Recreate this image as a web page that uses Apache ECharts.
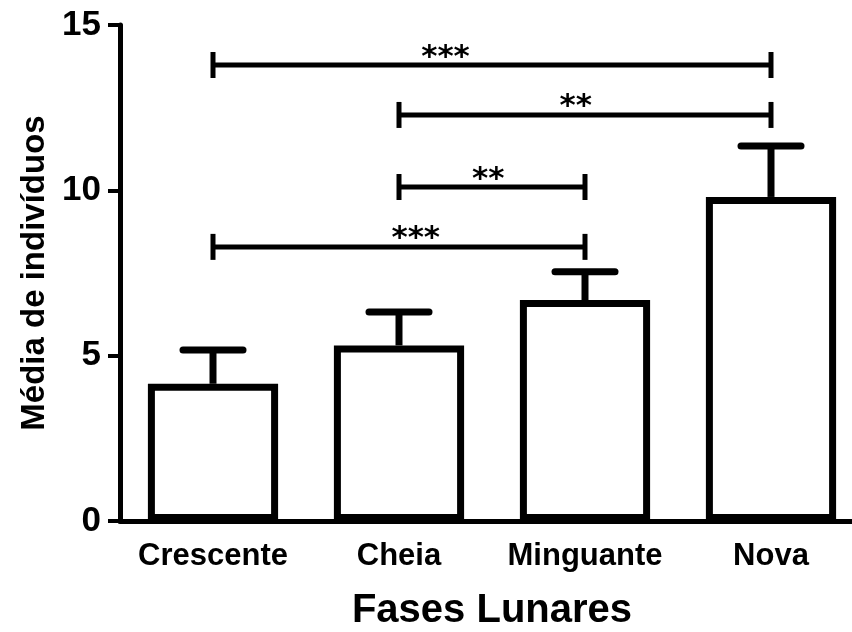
<!DOCTYPE html>
<html>
<head>
<meta charset="utf-8">
<script src="https://cdn.jsdelivr.net/npm/echarts@6/dist/echarts.min.js"></script>
<style>
  html, body { margin: 0; padding: 0; background: #fff; }
  #chart { width: 852px; height: 632px; }
</style>
</head>
<body>
<div id="chart"></div>
<script>
// fases lunares e médias
const fases = ['Crescente', 'Cheia', 'Minguante', 'Nova']
const medias = [4.15, 5.31, 6.68, 9.8]
const erros = [1.02, 1.01, 0.86, 1.54]
const yTicks = [0, 5, 10, 15]

// comparações significativas: inicio, fim, altura, posição dos asteriscos
const sigInicio = [0, 1, 1, 0]
const sigFim = [3, 3, 2, 2]
const sigAltura = [13.79, 12.28, 10.10, 8.29]
const sigTexto = ['***', '**', '**', '***']
const sigPosTexto = [1.25, 1.95, 1.48, 1.09]

const fonte = '"Liberation Sans", Arial, sans-serif'
const chart = echarts.init(document.getElementById('chart'))

chart.setOption({
  backgroundColor: '#fff',
  animation: false,
  grid: {
    left: 120,
    top: 25,
    width: 744,
    height: 496,
    containLabel: false,
    outerBoundsMode: 'none'
  },
  xAxis: {
    type: 'category',
    data: fases,
    name: 'Fases Lunares',
    nameLocation: 'middle',
    nameGap: 70,
    nameTextStyle: { fontFamily: fonte, fontWeight: 'bold', fontSize: 40, color: '#000' },
    axisLine: { lineStyle: { color: '#000', width: 5 } },
    axisTick: { alignWithLabel: true, length: 9, lineStyle: { color: '#000', width: 4 } },
    axisLabel: { interval: 0, margin: 20, fontFamily: fonte, fontWeight: 'bold', fontSize: 31, color: '#000' },
    splitLine: { show: false }
  },
  yAxis: {
    type: 'value',
    min: yTicks[0],
    max: yTicks[yTicks.length - 1],
    interval: yTicks[1] - yTicks[0],
    name: 'Média de indivíduos',
    nameLocation: 'middle',
    nameGap: 52,
    nameTextStyle: { fontFamily: fonte, fontWeight: 'bold', fontSize: 33, color: '#000' },
    axisLine: { show: true, lineStyle: { color: '#000', width: 5 } },
    axisTick: { show: true, length: 12, lineStyle: { color: '#000', width: 4 } },
    axisLabel: { margin: 19, fontFamily: fonte, fontWeight: 'bold', fontSize: 35, color: '#000' },
    splitLine: { show: false }
  },
  series: [
    {
      type: 'bar',
      data: medias,
      barWidth: '70%',
      itemStyle: { color: '#fff', borderColor: '#000', borderWidth: 7 },
      z: 2
    },
    {
      // barras de erro (só para cima)
      type: 'custom',
      data: medias.map((m, i) => [i, m, erros[i]]),
      z: 3,
      renderItem: function (params, api) {
        const i = api.value(0)
        const m = api.value(1)
        const e = api.value(2)
        const base = api.coord([i, m])
        const topo = api.coord([i, m + e])
        const meio = 30
        return {
          type: 'group',
          children: [
            {
              type: 'line',
              shape: { x1: base[0], y1: base[1], x2: topo[0], y2: topo[1] },
              style: { stroke: '#000', lineWidth: 7 }
            },
            {
              type: 'line',
              shape: { x1: topo[0] - meio, y1: topo[1], x2: topo[0] + meio, y2: topo[1] },
              style: { stroke: '#000', lineWidth: 7, lineCap: 'round' }
            }
          ]
        }
      }
    },
    {
      // linhas de significância
      type: 'custom',
      data: sigAltura.map((h, k) => [sigInicio[k], sigFim[k], h, sigPosTexto[k]]),
      z: 4,
      renderItem: function (params, api) {
        const y = api.value(2)
        const a = api.coord([api.value(0), y])
        const b = api.coord([api.value(1), y])
        // eixo de categorias arredonda: interpola entre as duas categorias vizinhas
        const p = api.value(3)
        const c0 = api.coord([Math.floor(p), y])
        const c1 = api.coord([Math.floor(p) + 1, y])
        const tx = c0[0] + (c1[0] - c0[0]) * (p - Math.floor(p))
        const h = 13
        return {
          type: 'group',
          children: [
            {
              type: 'line',
              shape: { x1: a[0], y1: a[1], x2: b[0], y2: b[1] },
              style: { stroke: '#000', lineWidth: 5 }
            },
            {
              type: 'line',
              shape: { x1: a[0], y1: a[1] - h, x2: a[0], y2: a[1] + h },
              style: { stroke: '#000', lineWidth: 5 }
            },
            {
              type: 'line',
              shape: { x1: b[0], y1: b[1] - h, x2: b[0], y2: b[1] + h },
              style: { stroke: '#000', lineWidth: 5 }
            },
            {
              type: 'text',
              x: tx,
              y: a[1] + 8,
              style: {
                text: sigTexto[params.dataIndex],
                fontFamily: '"DejaVu Sans", sans-serif',
                fontWeight: 'bold',
                fontSize: 31,
                fill: '#000',
                align: 'center',
                verticalAlign: 'bottom'
              }
            }
          ]
        }
      }
    }
  ]
})
</script>
</body>
</html>
